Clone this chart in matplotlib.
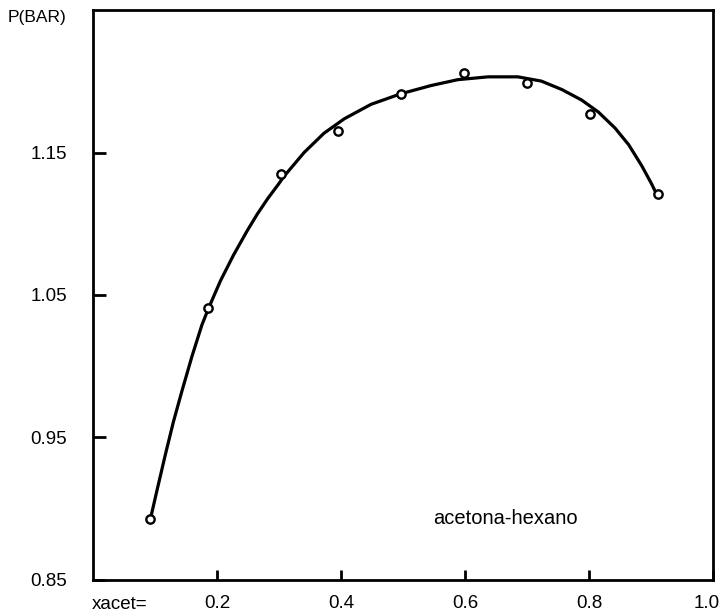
import matplotlib
matplotlib.use("Agg")
import matplotlib.pyplot as plt
from matplotlib.transforms import ScaledTranslation

# measured points (x acetone, P in bar)
x_data = [0.092, 0.185, 0.302, 0.394, 0.497, 0.598, 0.699, 0.802, 0.911]
p_data = [0.893, 1.041, 1.135, 1.165, 1.191, 1.206, 1.199, 1.177, 1.121]

# fitted curve
x_curve = [0.092, 0.102, 0.116, 0.129, 0.143, 0.159, 0.175, 0.186, 0.205, 0.226,
           0.248, 0.264, 0.281, 0.299, 0.307, 0.340, 0.372, 0.405, 0.448, 0.496,
           0.545, 0.588, 0.637, 0.685, 0.723, 0.756, 0.788, 0.815, 0.842, 0.864,
           0.885, 0.901, 0.910]
p_curve = [0.893, 0.912, 0.938, 0.961, 0.983, 1.007, 1.029, 1.041, 1.060, 1.078,
           1.095, 1.1065, 1.1175, 1.128, 1.133, 1.150, 1.1635, 1.1737, 1.1838, 1.1912,
           1.197, 1.2011, 1.2031, 1.2031, 1.2001, 1.1942, 1.1868, 1.1784, 1.1671, 1.1554,
           1.1407, 1.1279, 1.1198]

x_ticks = [0.2, 0.4, 0.6, 0.8, 1.0]
x_labels = ["0.2", "0.4", "0.6", "0.8", "1.0"]
y_ticks = [0.85, 0.95, 1.05, 1.15]
y_labels = ["0.85", "0.95", "1.05", "1.15"]

plt.rcParams["font.family"] = ["Liberation Sans", "DejaVu Sans"]

fig = plt.figure(figsize=(7.22, 6.14), dpi=100)
ax = fig.add_axes([0.1295, 0.0554, 0.8580, 0.9283])

ax.plot(x_curve, p_curve, color="black", lw=2.3,
        solid_capstyle="round", solid_joinstyle="round")
ax.plot(x_data, p_data, "o", ms=6, mfc="white", mec="black", mew=1.7)

ax.set_xlim(0, 1.0)
ax.set_ylim(0.85, 1.25)
ax.set_xticks(x_ticks)
ax.set_xticklabels(x_labels)
ax.set_yticks(y_ticks)
ax.set_yticklabels(y_labels)

for s in ax.spines.values():
    s.set_linewidth(2.0)
ax.tick_params(axis="y", direction="in", length=9, width=2, pad=19, labelsize=13.5)
ax.tick_params(axis="x", direction="in", length=7, width=2, pad=11, labelsize=13.5)

# last x label sits against the right edge
last = ax.get_xticklabels()[-1]
last.set_ha("right")
last.set_transform(last.get_transform() + ScaledTranslation(7 / 100, 0, fig.dpi_scale_trans))

ax.text(-0.1387, 0.9877, "P(BAR)", transform=ax.transAxes, fontsize=12.5,
        ha="left", va="center")
ax.text(-0.002, -0.0425, "xacet=", transform=ax.transAxes, fontsize=13.5,
        ha="left", va="center")
ax.text(0.548, 0.893, "acetona-hexano", fontsize=14.5, ha="left", va="center")

fig.savefig("out.png", dpi=100)
